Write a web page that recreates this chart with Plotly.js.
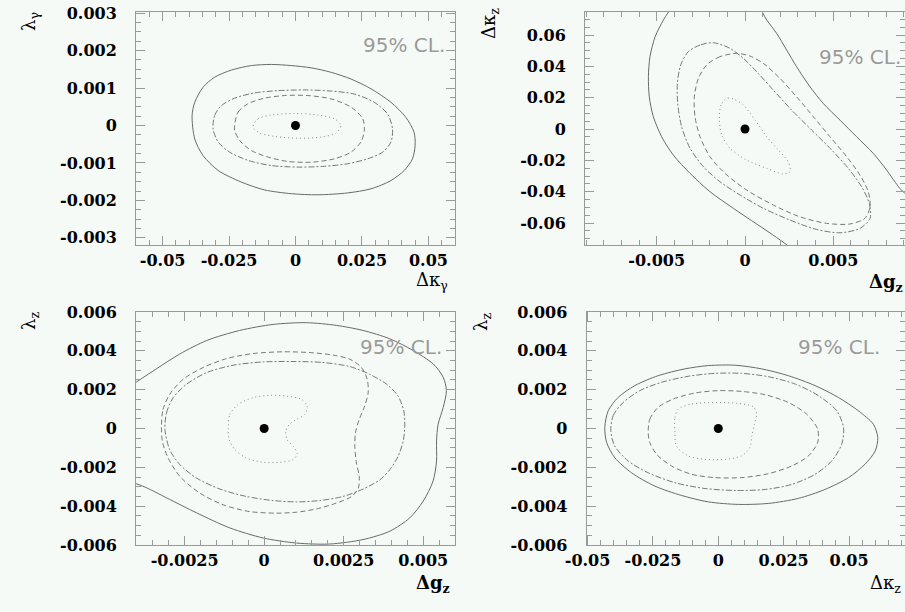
<!DOCTYPE html>
<html><head><meta charset="utf-8">
<script src="https://cdn.plot.ly/plotly-3.0.1.min.js"></script>
<style>html,body{margin:0;padding:0;background:#f6faf6;} #chart{width:905px;height:612px;}</style>
</head><body><div id="chart"></div>
<script>
// ---------- Panel 1: Δκγ (x) vs λγ (y) ----------
const p1_solid_x = [-0.0389,-0.0379,-0.0348,-0.0304,-0.0241,-0.0166,-0.0091,-0.0016,0.0059,0.0134,0.0209,0.0284,0.0359,0.0415,0.0446,0.0450,0.0440,0.0409,0.0359,0.0284,0.0196,0.0084,-0.0016,-0.0116,-0.0204,-0.0291,-0.0348,-0.0379,-0.0389];
const p1_solid_y = [0.00027,0.00062,0.00102,0.00129,0.00148,0.00160,0.00163,0.00160,0.00154,0.00142,0.00124,0.00098,0.00062,0.00022,-0.00018,-0.00053,-0.00089,-0.00120,-0.00147,-0.00169,-0.00180,-0.00185,-0.00182,-0.00172,-0.00151,-0.00120,-0.00080,-0.00036,0.00027];
const p1_dashdot_x = [-0.0310,-0.0304,-0.0279,-0.0229,-0.0154,-0.0066,0.0034,0.0134,0.0221,0.0296,0.0346,0.0365,0.0359,0.0328,0.0271,0.0196,0.0109,0.0009,-0.0091,-0.0179,-0.0248,-0.0291,-0.0310];
const p1_dashdot_y = [-0.00009,0.00027,0.00053,0.00073,0.00087,0.00093,0.00095,0.00092,0.00084,0.00062,0.00031,-0.00009,-0.00044,-0.00071,-0.00089,-0.00102,-0.00109,-0.00111,-0.00107,-0.00093,-0.00071,-0.00044,-0.00009];
const p1_dashed_x = [-0.0229,-0.0216,-0.0179,-0.0116,-0.0041,0.0046,0.0134,0.0209,0.0253,0.0259,0.0246,0.0209,0.0146,0.0059,-0.0029,-0.0104,-0.0166,-0.0210,-0.0229,-0.0229];
const p1_dashed_y = [0,0.00036,0.00058,0.00073,0.00080,0.00080,0.00071,0.00049,0.00018,-0.00013,-0.00044,-0.00071,-0.00089,-0.00098,-0.00096,-0.00084,-0.00067,-0.00040,-0.00013,0];
const p1_dotted_x = [-0.0160,-0.0141,-0.0091,-0.0004,0.0084,0.0146,0.0171,0.0153,0.0096,0.0009,-0.0079,-0.0135,-0.0160];
const p1_dotted_y = [-0.00004,0.00018,0.00028,0.00032,0.00028,0.00018,0,-0.00020,-0.00031,-0.00034,-0.00029,-0.00020,-0.00004];
const p1_xticks = [-0.05,-0.025,0,0.025,0.05];
const p1_xlabels = ['-0.05','-0.025','0','0.025','0.05'];
const p1_yticks = [-0.003,-0.002,-0.001,0,0.001,0.002,0.003];
const p1_ylabels = ['-0.003','-0.002','-0.001','0','0.001','0.002','0.003'];

// ---------- Panel 2: Δgz (x) vs Δκz (y) ----------
const p2_solidL_x = [-0.00432,-0.00462,-0.00509,-0.00538,-0.00547,-0.00542,-0.00519,-0.00472,-0.00406,-0.00311,-0.00198,-0.00066,0.00066,0.00179,0.0025];
const p2_solidL_y = [0.075,0.0696,0.0589,0.0462,0.0334,0.0206,0.0079,-0.0049,-0.0166,-0.0283,-0.0400,-0.0506,-0.0606,-0.0692,-0.075];
const p2_solidR_x = [0.00096,0.00123,0.00179,0.00236,0.00292,0.00368,0.00443,0.00538,0.00632,0.00726,0.00802,0.00877,0.0091];
const p2_solidR_y = [0.075,0.0696,0.0611,0.0504,0.0398,0.0270,0.0164,0.0057,-0.0049,-0.0155,-0.0262,-0.0379,-0.0415];
const p2_dashdot_x = [-0.00179,-0.00255,-0.00321,-0.00364,-0.00383,-0.00381,-0.00359,-0.00311,-0.00236,-0.00142,-0.00028,0.00104,0.00255,0.00406,0.00538,0.00651,0.00708,0.00704,0.00660,0.00585,0.00491,0.00377,0.00264,0.00160,0.00075,-0.00009,-0.00085,-0.00179];
const p2_dashdot_y = [0.0551,0.0536,0.0494,0.0409,0.0292,0.0164,0.0015,-0.0123,-0.0240,-0.0336,-0.0421,-0.0506,-0.0581,-0.0641,-0.0662,-0.0634,-0.0570,-0.0475,-0.0368,-0.0251,-0.0134,-0.0006,0.0121,0.0249,0.0355,0.0451,0.0515,0.0551];
const p2_dashed_x = [-0.00047,-0.00142,-0.00217,-0.00264,-0.00287,-0.00283,-0.00255,-0.00198,-0.00113,0.00009,0.00160,0.00311,0.00462,0.00594,0.00679,0.00708,0.00698,0.00651,0.00576,0.00481,0.00387,0.00292,0.00198,0.00104,0.00028,-0.00047];
const p2_dashed_y = [0.0483,0.0462,0.0409,0.0323,0.0206,0.0079,-0.0049,-0.0177,-0.0283,-0.0389,-0.0485,-0.0560,-0.0602,-0.0606,-0.0570,-0.0496,-0.0400,-0.0294,-0.0177,-0.0049,0.0079,0.0206,0.0323,0.0419,0.0466,0.0483];
const p2_dotted_x = [-0.00104,-0.00136,-0.00145,-0.00132,-0.00085,0.00009,0.00123,0.00217,0.00255,0.00245,0.00189,0.00123,0.00057,-0.00009,-0.00066,-0.00104];
const p2_dotted_y = [0.0196,0.0153,0.0057,-0.0038,-0.0123,-0.0198,-0.0251,-0.0287,-0.0272,-0.0209,-0.0134,-0.0049,0.0057,0.0153,0.0192,0.0196];
const p2_xticks = [-0.005,0,0.005];
const p2_xlabels = ['-0.005','0','0.005'];
const p2_yticks = [-0.06,-0.04,-0.02,0,0.02,0.04,0.06];
const p2_ylabels = ['-0.06','-0.04','-0.02','0','0.02','0.04','0.06'];

// ---------- Panel 3: Δgz (x) vs λz (y) ----------
const p3_solid_x = [-0.00403,-0.00339,-0.00265,-0.00181,-0.00077,0.00028,0.00133,0.00227,0.00311,0.00395,0.00468,0.00531,0.00563,0.00573,0.00563,0.00547,0.00542,0.00542,0.00531,0.00500,0.00458,0.00395,0.00311,0.00206,0.00102,-0.00003,-0.00108,-0.00213,-0.00307,-0.00370,-0.00403];
const p3_solid_y = [0.00238,0.00307,0.00384,0.00453,0.00505,0.00536,0.00545,0.00531,0.00505,0.00462,0.00402,0.00333,0.00264,0.00195,0.00109,0.00022,-0.00064,-0.00167,-0.00271,-0.00374,-0.00460,-0.00529,-0.00572,-0.00595,-0.00590,-0.00564,-0.00512,-0.00434,-0.00357,-0.00305,-0.00284];
const p3_dashed_x = [-0.00323,-0.00318,-0.00297,-0.00255,-0.00192,-0.00118,-0.00035,0.00060,0.00144,0.00217,0.00269,0.00306,0.00324,0.00327,0.00316,0.00299,0.00287,0.00285,0.00290,0.00299,0.00296,0.00275,0.00227,0.00165,0.00102,0.00039,-0.00045,-0.00129,-0.00202,-0.00265,-0.00302,-0.00320,-0.00323];
const p3_dashed_y = [0.00012,0.00098,0.00176,0.00253,0.00314,0.00360,0.00386,0.00395,0.00391,0.00378,0.00357,0.00314,0.00253,0.00184,0.00116,0.00047,-0.00022,-0.00091,-0.00178,-0.00247,-0.00307,-0.00350,-0.00384,-0.00414,-0.00431,-0.00436,-0.00428,-0.00393,-0.00333,-0.00247,-0.00152,-0.00066,0.00012];
const p3_dashdot_x = [-0.00312,-0.00307,-0.00286,-0.00244,-0.00181,-0.00097,-0.00003,0.00091,0.00185,0.00269,0.00332,0.00385,0.00421,0.00439,0.00442,0.00437,0.00421,0.00395,0.00364,0.00311,0.00248,0.00175,0.00102,0.00028,-0.00056,-0.00139,-0.00213,-0.00265,-0.00297,-0.00312];
const p3_dashdot_y = [-0.00005,0.00081,0.00159,0.00228,0.00288,0.00326,0.00343,0.00345,0.00340,0.00319,0.00279,0.00228,0.00167,0.00090,0.00012,-0.00066,-0.00143,-0.00212,-0.00264,-0.00312,-0.00350,-0.00371,-0.00378,-0.00371,-0.00350,-0.00312,-0.00255,-0.00186,-0.00109,-0.00005];
const p3_dotted_x = [-0.00113,-0.00108,-0.00082,-0.00035,0.00018,0.00070,0.00117,0.00135,0.00128,0.00102,0.00079,0.00068,0.00072,0.00091,0.00104,0.00091,0.00049,-0.00003,-0.00056,-0.00092,-0.00110,-0.00113];
const p3_dotted_y = [-0.00005,0.00072,0.00124,0.00159,0.00171,0.00167,0.00150,0.00116,0.00072,0.00047,0.00021,-0.00014,-0.00057,-0.00091,-0.00129,-0.00160,-0.00174,-0.00174,-0.00152,-0.00109,-0.00057,-0.00005];
const p3_xticks = [-0.0025,0,0.0025,0.005];
const p3_xlabels = ['-0.0025','0','0.0025','0.005'];
const lz_yticks = [-0.006,-0.004,-0.002,0,0.002,0.004,0.006];
const lz_ylabels = ['-0.006','-0.004','-0.002','0','0.002','0.004','0.006'];

// ---------- Panel 4: Δκz (x) vs λz (y) ----------
const p4_solid_x = [-0.0434,-0.0421,-0.0383,-0.0319,-0.0230,-0.0128,-0.0038,0.0064,0.0166,0.0268,0.0370,0.0459,0.0536,0.0593,0.0610,0.0600,0.0561,0.0498,0.0408,0.0306,0.0191,0.0077,-0.0038,-0.0140,-0.0242,-0.0332,-0.0396,-0.0427,-0.0434];
const p4_solid_y = [0.00005,0.00091,0.00160,0.00221,0.00272,0.00307,0.00324,0.00326,0.00307,0.00272,0.00221,0.00160,0.00091,0.00022,-0.00047,-0.00116,-0.00184,-0.00253,-0.00314,-0.00360,-0.00386,-0.00391,-0.00378,-0.00345,-0.00297,-0.00228,-0.00150,-0.00072,0.00005];
const p4_dashdot_x = [-0.0411,-0.0402,-0.0364,-0.0300,-0.0217,-0.0115,-0.0013,0.0089,0.0191,0.0294,0.0383,0.0453,0.0479,0.0472,0.0434,0.0370,0.0281,0.0179,0.0064,-0.0051,-0.0166,-0.0268,-0.0345,-0.0396,-0.0411];
const p4_dashdot_y = [-0.00012,0.00066,0.00134,0.00195,0.00238,0.00269,0.00284,0.00284,0.00267,0.00229,0.00169,0.00091,0.00005,-0.00081,-0.00167,-0.00236,-0.00288,-0.00314,-0.00319,-0.00309,-0.00279,-0.00228,-0.00167,-0.00090,-0.00012];
const p4_dashed_x = [-0.0268,-0.0262,-0.0230,-0.0172,-0.0089,0,0.0089,0.0179,0.0268,0.0338,0.0380,0.0380,0.0345,0.0281,0.0191,0.0089,-0.0013,-0.0102,-0.0179,-0.0236,-0.0262,-0.0268];
const p4_dashed_y = [-0.00021,0.00048,0.00109,0.00152,0.00183,0.00195,0.00191,0.00174,0.00134,0.00074,-0.00003,-0.00072,-0.00141,-0.00193,-0.00233,-0.00253,-0.00253,-0.00236,-0.00193,-0.00133,-0.00072,-0.00021];
const p4_dotted_x = [-0.0166,-0.0166,-0.0153,-0.0102,-0.0013,0.0077,0.0134,0.0147,0.0138,0.0128,0.0121,0.0089,0.0026,-0.0051,-0.0115,-0.0160,-0.0166];
const p4_dotted_y = [-0.00012,0.00057,0.00100,0.00126,0.00134,0.00129,0.00112,0.00074,0.00022,-0.00038,-0.00098,-0.00141,-0.00159,-0.00159,-0.00141,-0.00090,-0.00012];
const p4_xticks = [-0.05,-0.025,0,0.025,0.05];
const p4_xlabels = ['-0.05','-0.025','0','0.025','0.05'];

// best-fit (Standard Model) point
const sm_x = [0];
const sm_y = [0];

const DASH = {solid:'solid', dashdot:'6px,2px,2px,2px', dashed:'5px,3px', dotted:'1px,3px'};
const COL = {solid:'#6a6a6a', dashdot:'#777777', dashed:'#777777', dotted:'#888888'};

function curve(x, y, style, n){
  const s = n===1 ? '' : String(n);
  return {type:'scatter', mode:'lines', x:x, y:y, xaxis:'x'+s, yaxis:'y'+s,
    line:{color:COL[style], width:1, dash:DASH[style], shape:'spline', smoothing:0.8},
    hoverinfo:'skip', showlegend:false};
}
function dot(n){
  const s = n===1 ? '' : String(n);
  return {type:'scatter', mode:'markers', x:sm_x, y:sm_y, xaxis:'x'+s, yaxis:'y'+s,
    marker:{color:'#000', size:9}, hoverinfo:'skip', showlegend:false};
}

const traces = [
  curve(p1_solid_x,p1_solid_y,'solid',1), curve(p1_dashdot_x,p1_dashdot_y,'dashdot',1),
  curve(p1_dashed_x,p1_dashed_y,'dashed',1), curve(p1_dotted_x,p1_dotted_y,'dotted',1), dot(1),
  curve(p2_solidL_x,p2_solidL_y,'solid',2), curve(p2_solidR_x,p2_solidR_y,'solid',2),
  curve(p2_dashdot_x,p2_dashdot_y,'dashdot',2), curve(p2_dashed_x,p2_dashed_y,'dashed',2),
  curve(p2_dotted_x,p2_dotted_y,'dotted',2), dot(2),
  curve(p3_solid_x,p3_solid_y,'solid',3), curve(p3_dashed_x,p3_dashed_y,'dashed',3),
  curve(p3_dashdot_x,p3_dashdot_y,'dashdot',3), curve(p3_dotted_x,p3_dotted_y,'dotted',3), dot(3),
  curve(p4_solid_x,p4_solid_y,'solid',4), curve(p4_dashdot_x,p4_dashdot_y,'dashdot',4),
  curve(p4_dashed_x,p4_dashed_y,'dashed',4), curve(p4_dotted_x,p4_dotted_y,'dotted',4), dot(4)
];

const tickFont = {family:'DejaVu Serif, Liberation Serif, serif', size:16, color:'#000', weight:'bold'};
function ax(domain, range, vals, text, minor, anchor, isY){
  return {domain:domain, range:range, anchor:anchor, tickmode:'array', tickvals:vals, ticktext:text,
    ticks:'inside', ticklen:9, tickwidth:1, tickcolor:'#9a9a9a',
    minor:{tickmode:'linear', tick0:0, dtick:minor, ticks:'inside', ticklen:5, tickwidth:1, tickcolor:'#9a9a9a'},
    showline:true, linecolor:'#9a9a9a', linewidth:1, mirror:'allticks',
    showgrid:false, zeroline:false, fixedrange:true, tickfont:tickFont,
    ticklabelstandoff: isY ? 15 : 1};
}

const px = v => v/905, py = v => 1 - v/612;
const titleFont = {family:'DejaVu Serif, Liberation Serif, serif', size:18, color:'#000'};
const clFont = {family:'DejaVu Sans, Liberation Sans, sans-serif', size:20, color:'#9a9a9a'};
function ann(text, x, y, opts){
  return Object.assign({text:text, x:px(x), y:py(y), xref:'paper', yref:'paper', showarrow:false,
    xanchor:'center', yanchor:'middle', font:titleFont}, opts||{});
}

const layout = {
  width:905, height:612, margin:{l:0,r:0,t:0,b:0},
  paper_bgcolor:'#f6faf6', plot_bgcolor:'#f6faf6', showlegend:false,
  xaxis:  ax([px(136),px(455)], [-0.06,0.06], p1_xticks, p1_xlabels, 0.005, 'y', false),
  yaxis:  ax([py(245),py(12)], [-0.00319,0.00303], p1_yticks, p1_ylabels, 0.00025, 'x', true),
  xaxis2: ax([px(585),1], [-0.00906,0.00906], p2_xticks, p2_xlabels, 0.001, 'y2', false),
  yaxis2: ax([py(245),py(12)], [-0.074,0.0747], p2_yticks, p2_ylabels, 0.005, 'x2', true),
  xaxis3: ax([px(136),px(455)], [-0.00403,0.0060], p3_xticks, p3_xlabels, 0.0005, 'y3', false),
  yaxis3: ax([py(545),py(312)], [-0.006,0.006], lz_yticks, lz_ylabels, 0.0005, 'x3', true),
  xaxis4: ax([px(586.5),1], [-0.0504,0.0714], p4_xticks, p4_xlabels, 0.005, 'y4', false),
  yaxis4: ax([py(545),py(312)], [-0.006,0.006], lz_yticks, lz_ylabels, 0.0005, 'x4', true),
  annotations:[
    ann('λ<sub>γ</sub>', 30, 22, {textangle:-90}),
    ann('Δκ<sub>γ</sub>', 432, 281),
    ann('Δκ<sub>z</sub>', 490, 23, {textangle:-90}),
    ann('<b>Δg<sub>z</sub></b>', 886, 283),
    ann('λ<sub>z</sub>', 30, 321, {textangle:-90}),
    ann('<b>Δg<sub>z</sub></b>', 433, 584),
    ann('λ<sub>z</sub>', 482, 322, {textangle:-90}),
    ann('Δκ<sub>z</sub>', 885, 584),
    ann('95% CL.', 447, 45, {xanchor:'right', font:clFont}),
    ann('95% CL.', 817, 57, {xanchor:'left', font:clFont}),
    ann('95% CL.', 444, 347, {xanchor:'right', font:clFont}),
    ann('95% CL.', 882, 347, {xanchor:'right', font:clFont})
  ]
};

Plotly.newPlot('chart', traces, layout, {staticPlot:true, displayModeBar:false});
</script>
</body></html>
